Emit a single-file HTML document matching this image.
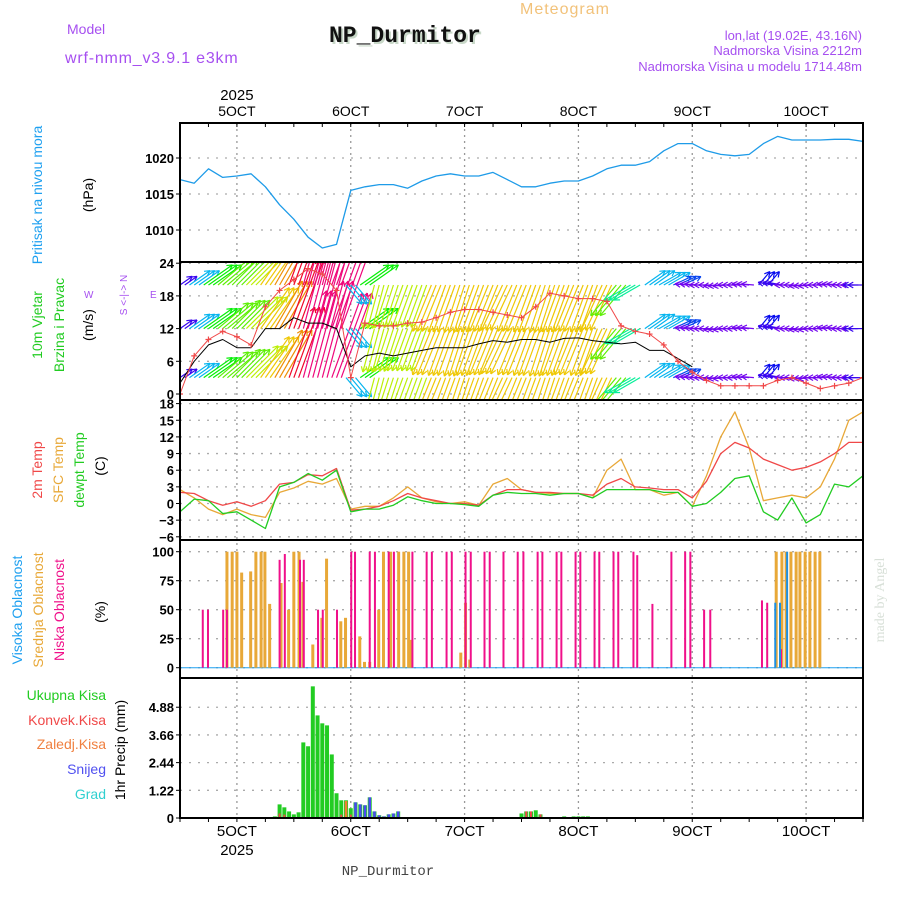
<!DOCTYPE html>
<html><head><meta charset="utf-8"><style>
html,body{margin:0;padding:0;background:#fff;}
svg{display:block;font-family:"Liberation Sans",sans-serif;}
</style></head><body>
<svg id="chart" width="900" height="900" viewBox="0 0 900 900" xmlns="http://www.w3.org/2000/svg">
<defs><clipPath id="clipAll"><rect x="180" y="123" width="683" height="695"/></clipPath>
<clipPath id="clipWind"><rect x="180" y="262" width="683" height="138"/></clipPath></defs>
<text x="520" y="14" font-size="16" fill="#f2c27a" letter-spacing="1">Meteogram</text>
<text x="67" y="34" font-size="14" fill="#a64ff0">Model</text>
<text x="65" y="63" font-size="16" fill="#a64ff0" letter-spacing="0.8">wrf-nmm_v3.9.1 e3km</text>
<text x="331" y="44" font-size="23" font-weight="bold" fill="#c8d8c8" font-family="Liberation Mono,monospace">NP_Durmitor</text>
<text x="329" y="42" font-size="23" font-weight="bold" fill="#111" font-family="Liberation Mono,monospace">NP_Durmitor</text>
<text x="862" y="40" font-size="13" fill="#a64ff0" text-anchor="end">lon,lat (19.02E, 43.16N)</text>
<text x="862" y="55" font-size="13" fill="#a64ff0" text-anchor="end">Nadmorska Visina 2212m</text>
<text x="862" y="71" font-size="13" fill="#a64ff0" text-anchor="end">Nadmorska Visina u modelu 1714.48m</text>
<g id="grid"></g>
<g id="marks" clip-path="url(#clipAll)"></g>
<g id="windg" clip-path="url(#clipWind)"></g>
<g id="lines" clip-path="url(#clipAll)"></g>
<g id="frames"></g>
<g id="labels" font-size="13" fill="#000"></g>
<g font-size="14">
<text transform="translate(42,195) rotate(-90)" text-anchor="middle" fill="#1ea0f0">Pritisak na nivou mora</text>
<text transform="translate(93,195) rotate(-90)" text-anchor="middle" fill="#000">(hPa)</text>
<text transform="translate(42,325) rotate(-90)" text-anchor="middle" fill="#22cc22">10m Vjetar</text>
<text transform="translate(64,325) rotate(-90)" text-anchor="middle" fill="#22cc22">Brzina i Pravac</text>
<text transform="translate(93,325) rotate(-90)" text-anchor="middle" fill="#000">(m/s)</text>
<text transform="translate(127,295) rotate(-90)" text-anchor="middle" fill="#a64ff0" font-size="10">S &lt;-|-&gt; N</text>
<text x="84" y="298" fill="#a64ff0" font-size="10">W</text>
<text x="150" y="298" fill="#a64ff0" font-size="10">E</text>
<text transform="translate(42,470) rotate(-90)" text-anchor="middle" fill="#f04848">2m Temp</text>
<text transform="translate(63,470) rotate(-90)" text-anchor="middle" fill="#e8a838">SFC Temp</text>
<text transform="translate(84,470) rotate(-90)" text-anchor="middle" fill="#22cc22">dewpt Temp</text>
<text transform="translate(105,466) rotate(-90)" text-anchor="middle" fill="#000">(C)</text>
<text transform="translate(22,610) rotate(-90)" text-anchor="middle" fill="#1ea0f0">Visoka Oblacnost</text>
<text transform="translate(43,610) rotate(-90)" text-anchor="middle" fill="#e8a838">Srednja Oblacnost</text>
<text transform="translate(64,610) rotate(-90)" text-anchor="middle" fill="#f0108a">Niska Oblacnost</text>
<text transform="translate(105,612) rotate(-90)" text-anchor="middle" fill="#000">(%)</text>
<text x="106" y="700" text-anchor="end" fill="#22cc22">Ukupna  Kisa</text>
<text x="106" y="725" text-anchor="end" fill="#f04848">Konvek.Kisa</text>
<text x="106" y="749" text-anchor="end" fill="#f08040">Zaledj.Kisa</text>
<text x="106" y="774" text-anchor="end" fill="#5050f0">Snijeg</text>
<text x="106" y="799" text-anchor="end" fill="#30d0d0">Grad</text>
<text transform="translate(125,750) rotate(-90)" text-anchor="middle" fill="#000">1hr Precip (mm)</text>
<text transform="translate(884,600) rotate(-90)" text-anchor="middle" fill="#d8e0d8" font-family="Liberation Serif,serif">made by Angel</text>
<text x="388" y="875" text-anchor="middle" fill="#444" font-family="Liberation Mono,monospace">NP_Durmitor</text>
</g>
</svg>
<script>
// time axis: hours since 4 OCT 12:00 (3-hourly samples)
const dayLabels = ["5OCT","6OCT","7OCT","8OCT","9OCT","10OCT"];
const dayHours = [12,36,60,84,108,132];
const pressure = [1017,1016.5,1018.5,1017.3,1017.5,1017.8,1016,1013.5,1011.5,1009,1007.5,1008,1015.5,1016,1016.3,1016.3,1015.8,1016.8,1017.5,1017.8,1017.5,1017.5,1018,1017,1016,1016,1016.5,1016.8,1016.8,1017.5,1018.5,1019,1019,1019.5,1021,1022,1022,1021,1020.5,1020.3,1020.5,1022,1023,1022.5,1022.5,1022.5,1022.6,1022.6,1022.3];
const pressureTicks = [1010,1015,1020];
const wind10 = [2,6,9,10,8.5,8.5,12,12,14,13,13,12,5,7,7.5,7,7.5,8,8.5,8.5,8.5,9.2,9.8,9.5,10,10,9.5,10.2,10.3,9.8,9.5,9.2,9.5,8,8,6.5,5];
const gust = [0,7,10,11.5,10.5,9,16,19,21,23,22,19,3,13,12.5,12.5,13,13.2,14,15,15.5,15.5,15,14.5,14,16,18.5,18,17.5,17.5,17,12.5,11.5,11,9,6,4,2.5,1.5,1.5,1.5,1.5,2.5,3,2,1,1.5,2,3];
const windDir = [235,235,235,230,225,225,215,210,200,195,195,200,320,235,15,18,20,20,22,20,18,20,22,25,22,20,18,20,22,20,25,40,60,235,240,245,95,90,85,90,95,220,100,90,85,90,95,90,90];
const windSpd = [3,5,7,8,8,9,10,11,15,18,20,18,5,7,9,9,9,9,10,10,10,10,10,10,10,10,10,10,10,10,10,8,6,5,5,4,2.5,2.5,2.5,2.5,2.5,3.5,3,2.5,2.5,2.5,2.5,2.5,3];
const windTicks = [0,6,12,18,24];
const temp2m = [2,1.8,0.5,-0.3,0.3,-0.5,0.5,3.5,3.8,5.2,5.0,6.3,-1.2,-1,-0.5,0.5,1.8,1,0.5,0,0,-0.3,1.5,2.5,2.5,2,2,1.8,1.8,1.5,3.5,4.5,3,2.8,2.5,2.5,1,4,9,11,10,8,7,6,6.5,7.5,9,11,11];
const tempSfc = [2.5,1,-1,-2,-1,-2,-2.5,2,2.8,4,3.5,4.5,-1,-0.5,-0.5,1,3,1,0.3,0,0.3,-0.3,3.5,4.5,2.5,2,1.8,1.8,1.8,1,6,8,2.5,2.5,1.5,2,-0.5,5,12,16.5,10,0.5,1,1.5,1,3,8,15,16.5];
const dewpt = [-1.5,0.8,0.5,-1.8,-1.5,-3,-4.5,3,3.8,5.4,4.2,6,-1.5,-1,-1,-0.3,1.2,0.5,0,0,-0.2,-0.5,1.5,2,1.8,1.8,1.5,1.8,1.8,1,2.5,2.5,2.5,2.5,2,2,-0.5,0,2,4.5,5,-1.5,-3,1,-3.5,-2,3.5,3,5];
const tempTicks = [-6,-3,0,3,6,9,12,15,18];
const lowCloudHours = [4.8,5.9,9.1,9.9,21,22.1,25.3,26.1,29.1,30.1,33.1,36.1,36.9,40,41.1,44,45.1,49,52,53.1,56.2,57.3,60.2,61.3,64.2,65.3,68.2,71.2,72.4,75.4,76.4,79.4,80.4,83.4,84.4,87.4,88.4,91.4,92.4,95.6,96.4,99.6,103.6,106.5,107.6,110.5,111.8,122.7,123.8,126.7];
const lowCloud = [50,50,50,50,93,98,93,93,50,50,50,100,100,100,100,100,100,100,100,100,100,100,100,100,100,100,100,100,100,100,100,100,100,100,100,100,100,100,100,100,97,55,100,100,100,50,50,58,56,16];
const midCloudHours = [9.9,11.0,12.0,13.0,14.9,16.0,17.1,17.9,18.9,21.3,22.9,24.0,25.1,25.9,28.0,29.9,30.9,33.9,34.9,37.9,38.9,40.0,41.9,42.9,44.4,46.1,47.2,48.2,48.8,59.2,60.2,61.1,125.7,126.9,127.8,128.8,129.9,130.7,131.8,132.8,133.9,134.9];
const midCloud = [100,100,100,82,83,100,100,100,55,73,50,100,100,74,20,43,94,40,43,27,5,5,50,100,100,100,100,100,24,13,56,7,100,100,100,100,100,100,100,100,100,100];
const highCloudHours = [125.5,126.5,128.0];
const highCloud = [56,56,100];
const cloudTicks = [0,25,50,75,100];
const rainHours = [20,21,22,23,24,25,26,27,28,29,30,31,32,33,34,35,36,37,38,39,40,41,42,43,44,45,46,72,73,74,75,76,81,83,84,85,86];
const rainTotal = [0.07,0.6,0.47,0.29,0.16,0.25,3.33,3.16,5.8,4.52,4.17,4.08,2.8,1.09,0.78,0.78,0.43,0.69,0.6,0.56,0.91,0.29,0.12,0.07,0.16,0.2,0.29,0.2,0.29,0.29,0.34,0.16,0.07,0.07,0.07,0.07,0.07];
const convHours = [21,22,34,36,73,74,76];
const convRain = [0.2,0.15,0.15,0.15,0.29,0.29,0.16];
const frzHours = [35];
const frzRain = [0.75];
const snowHours = [37,38,39,40,41,42,43,44,45,46];
const snowVals = [0.69,0.6,0.56,0.91,0.29,0.12,0.07,0.16,0.2,0.29];
const precipTicks = [0,1.22,2.44,3.66,4.88];

const NS="http://www.w3.org/2000/svg";
function mk(tag,attrs,parent){const e=document.createElementNS(NS,tag);for(const k in attrs)e.setAttribute(k,attrs[k]);parent.appendChild(e);return e;}
const X=h=>180+h*4.7431;
const yP=v=>158-(v-1020)*7.2;
const yW=v=>394-v*5.45;
const yT=v=>503.5-v*5.55;
const yC=v=>667.7-v*1.16;
const yR=v=>818-v*22.7;
// colour scale for wind speed (style, not data)
function windHue(sp){const k=[[0,275],[2.5,268],[5,195],[7,120],[10,50],[13,5],[18,-30]];
  if(sp<=k[0][0])return k[0][1];
  for(let j=1;j<k.length;j++){if(sp<=k[j][0]){const t=(sp-k[j-1][0])/(k[j][0]-k[j-1][0]);return k[j-1][1]+t*(k[j][1]-k[j-1][1]);}}
  return -30;}
const G=document.getElementById('grid'),M=document.getElementById('marks'),WG=document.getElementById('windg'),L=document.getElementById('lines'),F=document.getElementById('frames'),LB=document.getElementById('labels');
const panels=[[123,262],[262,400],[400,540],[540,678],[678,818]];
dayHours.forEach((h,i)=>{
  const g=mk('line',{x1:X(h),x2:X(h),y1:123,y2:818,stroke:'#999','stroke-width':1.3,'stroke-dasharray':'2,4'},G);
  
  
  const t=mk('text',{x:X(h),y:116,'text-anchor':'middle','font-size':14},LB);t.textContent=dayLabels[i];
  
  
  const b=mk('text',{x:X(h),y:836,'text-anchor':'middle','font-size':15},LB);b.textContent=dayLabels[i];
  
  
});
[[X(12),100],[X(12),855]].forEach(p=>{const t=mk('text',{x:p[0],y:p[1],'text-anchor':'middle','font-size':15},LB);t.textContent='2025';
  
  });
function hgrid(ticks,fy,fmt){ticks.forEach(v=>{
  const g=mk('line',{x1:180,x2:863,y1:fy(v),y2:fy(v),stroke:'#aaa','stroke-width':1.3,'stroke-dasharray':'2,7'},G);
  
  
  const t=mk('text',{x:174,y:fy(v)+5,'text-anchor':'end','font-size':13,'font-weight':'bold'},LB);t.textContent=fmt?fmt(v):v;
  
  
  mk('line',{x1:176,x2:180,y1:fy(v),y2:fy(v),stroke:'#000'},F);
});}
hgrid(pressureTicks,yP);hgrid(windTicks,yW);hgrid(tempTicks,yT,v=>v<0?'\u2212'+(-v):v);hgrid(cloudTicks,yC);hgrid(precipTicks,yR,v=>v===0?'0':v.toFixed(2));
function poly(arr,fy,color,w,name){const pts=arr.map((v,i)=>X(i*3).toFixed(1)+','+fy(v).toFixed(1)).join(' ');
  const p=mk('polyline',{points:pts,fill:'none',stroke:color,'stroke-width':w,'stroke-linejoin':'round'},L);
  
  }
const rows=[20,12,3];
for(let h=0;h<=144;h++){
  const i=Math.round(h/3);const sp=windSpd[i];const to=(windDir[i]+180)*Math.PI/180;
  const Lg=sp*5;const hue=windHue(sp);const col='hsl('+((hue+360)%360).toFixed(0)+',95%,48%)';
  rows.forEach(r=>{
    const x0=X(h),y0=yW(r),x1=x0+Math.sin(to)*Lg,y1=y0-Math.cos(to)*Lg;
    const a=mk('line',{x1:x0,y1:y0,x2:x1,y2:y1,stroke:col,'stroke-width':1.2},WG);
    
    
    const ang=Math.atan2(y1-y0,x1-x0);
    [0.5,-0.5].forEach(d=>{const hh=mk('line',{x1:x1,y1:y1,x2:x1-6*Math.cos(ang+d),y2:y1-6*Math.sin(ang+d),stroke:col,'stroke-width':1.2},WG);
      
      });
  });
}
poly(pressure,yP,'#1e9be8',1.3,'pressure-line');
poly(wind10,yW,'#000',1,'wind-speed-line');
poly(gust,yW,'#f04848',1,'wind-gust-line');
gust.forEach((v,i)=>{const x=X(i*3),y=yW(v);
  const c=mk('path',{d:`M${x-3},${y}h6M${x},${y-3}v6`,stroke:'#f04848','stroke-width':1.2},L);
  
  });
poly(tempSfc,yT,'#e8a838',1.3,'sfc-temp-line');
poly(temp2m,yT,'#f04848',1.3,'temp-2m-line');
poly(dewpt,yT,'#22cc22',1.3,'dewpt-line');
const base=mk('line',{x1:180,x2:863,y1:yC(0),y2:yC(0),stroke:'#1ea0f0','stroke-width':1},M);


function bars(hours,vals,fy,color,w,name){hours.forEach((h,i)=>{const y=fy(vals[i]);
  const r=mk('rect',{x:X(h)-w/2,y:y,width:w,height:fy(0)-y,fill:color},M);
  
  });}
bars(midCloudHours,midCloud,yC,'#e8a838',3,'mid-cloud-bar');
bars(lowCloudHours,lowCloud,yC,'#f0108a',2,'low-cloud-bar');
bars(highCloudHours,highCloud,yC,'#1e90e0',2,'high-cloud-bar');
bars(rainHours,rainTotal,yR,'#22cc22',4,'total-rain-bar');
bars(snowHours,snowVals,yR,'#4a4af0',2.6,'snow-bar');
bars(convHours,convRain,yR,'#f04848',2,'convective-rain-bar');
bars(frzHours,frzRain,yR,'#f08030',2.6,'freezing-rain-bar');
panels.forEach(p=>{const r=mk('rect',{x:180,y:p[0],width:683,height:p[1]-p[0],fill:'none',stroke:'#000','stroke-width':2},F);
  
  });
for(let h=0;h<=144;h+=6){mk('line',{x1:X(h),x2:X(h),y1:123,y2:127,stroke:'#000'},F);mk('line',{x1:X(h),x2:X(h),y1:818,y2:822,stroke:'#000'},F);}
</script>
</body></html>
